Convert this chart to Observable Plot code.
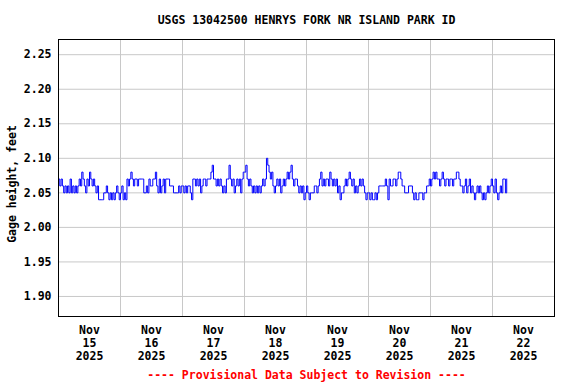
<!DOCTYPE html>
<html><head><meta charset="utf-8">
<script src="https://cdn.jsdelivr.net/npm/d3@7"></script>
<script src="https://cdn.jsdelivr.net/npm/@observablehq/plot@0.6"></script>
<style>body{margin:0;background:#fff}</style>
</head><body><div id="chart"></div>
<script>
const title = "USGS 13042500 HENRYS FORK NR ISLAND PARK ID";
const yLabel = "Gage height, feet";
const footer = "---- Provisional Data Subject to Revision ----";
const monthLabel = "Nov";
const yearLabel = "2025";
const dayLabels = ["15", "16", "17", "18", "19", "20", "21", "22"];
const yTicks = [1.90, 1.95, 2.00, 2.05, 2.10, 2.15, 2.20, 2.25];

// half-hourly gage height readings (feet), one array per day
const nov15 = [2.07,2.06, 2.07,2.06, 2.05,2.06, 2.05,2.06, 2.05,2.07, 2.05,2.06, 2.05,2.06, 2.05,2.06,
               2.07,2.06, 2.08,2.07, 2.06,2.05, 2.07,2.06, 2.08,2.07, 2.06,2.07, 2.06,2.05, 2.06,2.04,
               2.04,2.04, 2.04,2.05, 2.05,2.06, 2.05,2.04, 2.05,2.04, 2.05,2.04, 2.05,2.06, 2.05,2.04];
const nov16 = [2.05,2.06, 2.04,2.05, 2.04,2.07, 2.06,2.07, 2.08,2.07, 2.06,2.07, 2.07,2.06, 2.07,2.07,
               2.07,2.07, 2.05,2.05, 2.06,2.05, 2.07,2.06, 2.06,2.07, 2.07,2.08, 2.06,2.05, 2.07,2.05,
               2.06,2.07, 2.05,2.07, 2.07,2.07, 2.06,2.06, 2.06,2.05, 2.05,2.05, 2.05,2.06, 2.05,2.06];
const nov17 = [2.06,2.05, 2.06,2.05, 2.06,2.06, 2.05,2.04, 2.07,2.07, 2.06,2.07, 2.06,2.07, 2.05,2.06,
               2.07,2.07, 2.06,2.07, 2.07,2.07, 2.08,2.09, 2.07,2.07, 2.06,2.07, 2.06,2.07, 2.06,2.05,
               2.06,2.05, 2.07,2.07, 2.09,2.07, 2.06,2.07, 2.05,2.06, 2.07,2.06, 2.07,2.05, 2.07,2.08];
const nov18 = [2.08,2.09, 2.07,2.06, 2.07,2.06, 2.05,2.06, 2.05,2.06, 2.05,2.06, 2.05,2.06, 2.07,2.06,
               2.07,2.10, 2.09,2.08, 2.07,2.08, 2.06,2.05, 2.06,2.07, 2.06,2.07, 2.05,2.06, 2.07,2.06,
               2.07,2.08, 2.07,2.08, 2.09,2.07, 2.06,2.07, 2.07,2.06, 2.05,2.06, 2.05,2.06, 2.04,2.05];
const nov19 = [2.06,2.05, 2.04,2.05, 2.05,2.05, 2.06,2.06, 2.05,2.06, 2.07,2.08, 2.06,2.07, 2.06,2.07,
               2.07,2.06, 2.08,2.07, 2.06,2.07, 2.06,2.07, 2.05,2.06, 2.04,2.05, 2.05,2.06, 2.07,2.06,
               2.07,2.08, 2.07,2.06, 2.07,2.05, 2.06,2.05, 2.06,2.07, 2.06,2.07, 2.06,2.05, 2.04,2.05];
const nov20 = [2.05,2.04, 2.05,2.04, 2.04,2.05, 2.04,2.05, 2.06,2.06, 2.06,2.06, 2.06,2.07, 2.06,2.04,
               2.07,2.06, 2.06,2.07, 2.07,2.06, 2.07,2.08, 2.08,2.07, 2.06,2.06, 2.05,2.05, 2.05,2.06,
               2.06,2.06, 2.05,2.04, 2.05,2.04, 2.04,2.05, 2.05,2.05, 2.04,2.05, 2.05,2.06, 2.06,2.07];
const nov21 = [2.06,2.07, 2.08,2.07, 2.08,2.07, 2.07,2.06, 2.07,2.08, 2.07,2.06, 2.07,2.07, 2.06,2.07,
               2.07,2.06, 2.07,2.07, 2.08,2.08, 2.07,2.06, 2.06,2.05, 2.06,2.07, 2.05,2.06, 2.07,2.05,
               2.06,2.05, 2.04,2.05, 2.06,2.05, 2.06,2.05, 2.04,2.05, 2.04,2.05, 2.06,2.05, 2.06,2.07];
const nov22 = [2.06,2.05, 2.07,2.05, 2.04,2.05, 2.06,2.05, 2.07,2.07, 2.05,2.07];

const days = [nov15, nov16, nov17, nov18, nov19, nov20, nov21, nov22];
const data = [];
days.forEach((vals, d) => vals.forEach((v, i) =>
  data.push({t: new Date(Date.UTC(2025, 10, 15 + d, 0, 30 * i)), v})));

const midnights = d3.range(1, 8).map(d => new Date(Date.UTC(2025, 10, 15 + d)));
const noons = dayLabels.map((_, d) => new Date(Date.UTC(2025, 10, 15 + d, 12)));
const noonLabel = new Map(noons.map((n, i) => [+n, `${monthLabel}\n${dayLabels[i]}\n${yearLabel}`]));

const font = "'DejaVu Sans Mono', monospace";
const chart = Plot.plot({
  width: 576, height: 384,
  marginLeft: 58, marginRight: 22, marginTop: 39, marginBottom: 68,
  style: {fontFamily: font, fontSize: "11.5px", fontWeight: "bold", color: "black", background: "white"},
  x: {type: "utc", domain: [new Date(Date.UTC(2025, 10, 15)), new Date(Date.UTC(2025, 10, 23))]},
  y: {domain: [1.871, 2.272]},
  marks: [
    Plot.gridY(yTicks, {stroke: "#c8c8c8", strokeOpacity: 1}),
    Plot.gridX(midnights, {stroke: "#c8c8c8", strokeOpacity: 1}),
    Plot.line(data, {x: "t", y: "v", stroke: "#0000ff", strokeWidth: 1, curve: "step-after"}),
    Plot.frame({stroke: "black"}),
    Plot.axisY(yTicks, {tickSize: 0, tickPadding: 7, tickFormat: d => d.toFixed(2), label: null}),
    Plot.axisX(noons, {tickSize: 0, tickPadding: 8, tickFormat: d => noonLabel.get(+d), label: null, lineHeight: 1.13}),
    Plot.text([yLabel], {text: d => d, frameAnchor: "left", textAnchor: "middle", lineAnchor: "middle", rotate: -90, dx: -46, dy: 6}),
    Plot.text([title], {text: d => d, frameAnchor: "top", lineAnchor: "middle", dy: -19}),
    Plot.text([footer], {text: d => d, frameAnchor: "bottom", lineAnchor: "middle", dy: 59, fill: "#ff0000"})
  ]
});
document.getElementById("chart").append(chart);
</script>
</body></html>
